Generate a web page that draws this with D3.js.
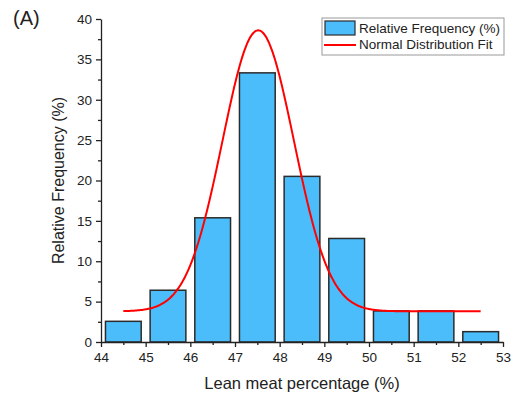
<!DOCTYPE html>
<html>
<head>
<meta charset="utf-8">
<script src="https://cdn.jsdelivr.net/npm/d3@7"></script>
<style>
  body { margin: 0; background: #fff; }
  svg text { font-family: Arial, "Liberation Sans", sans-serif; fill: #222; }
</style>
</head>
<body>
<svg id="chart" width="513" height="397"></svg>
<script>
// histogram bins (lean meat %), bin start / end
const binStarts = [44, 45, 46, 47, 48, 49, 50, 51, 52];
const binEnds = [45, 46, 47, 48, 49, 50, 51, 52, 53];
const relFreq = [2.56, 6.41, 15.38, 33.33, 20.51, 12.82, 3.85, 3.85, 1.28];

// normal (gauss) fit parameters
const fitY0 = 3.8;
const fitA = 34.8;
const fitXc = 47.52;
const fitW = 0.8;
const fitRange = [44.5, 52.5];

const xTicks = [44, 45, 46, 47, 48, 49, 50, 51, 52, 53];
const yTicks = [0, 5, 10, 15, 20, 25, 30, 35, 40];

const margin = {top: 19, right: 10, bottom: 55, left: 101};
const width = 503 - margin.left;
const height = 342 - margin.top;
const barColor = '#4bbdfb';

const svg = d3.select('#chart');
const g = svg.append('g').attr('transform', `translate(${margin.left},${margin.top})`);

const x = d3.scaleLinear().domain([44, 53]).range([0, width]);
const y = d3.scaleLinear().domain([0, 40]).range([height, 0]);

// bars
g.append('g')
    .selectAll('rect')
    .data(relFreq)
    .enter()
    .append('rect')
    .attr('x', (d, i) => x(binStarts[i] + 0.1))
    .attr('y', d => y(d))
    .attr('width', (d, i) => x(binEnds[i] - 0.1) - x(binStarts[i] + 0.1))
    .attr('height', d => height - y(d))
    .attr('fill', barColor)
    .attr('stroke', '#2b2b2b')
    .attr('stroke-width', 1.5);

// fit curve
const fitXs = d3.range(fitRange[0], fitRange[1] + 0.001, 0.02);
const fitLine = d3.line()
    .x(d => x(d))
    .y(d => y(fitY0 + fitA * Math.exp(-((d - fitXc) ** 2) / (2 * fitW * fitW))))
    .curve(d3.curveBasis);
g.append('path')
    .datum(fitXs)
    .attr('d', fitLine)
    .attr('fill', 'none')
    .attr('stroke', '#ff0000')
    .attr('stroke-width', 2);

// minor ticks
g.append('g')
    .attr('transform', `translate(0,${height})`)
    .call(d3.axisBottom(x).tickValues(d3.range(44.5, 53, 1)).tickSize(3).tickFormat(''))
    .call(a => a.select('.domain').remove());
g.append('g')
    .call(d3.axisLeft(y).tickValues(d3.range(2.5, 40, 5)).tickSize(3).tickFormat(''))
    .call(a => a.select('.domain').remove());

// x axis
const xAxis = g.append('g')
    .attr('transform', `translate(0,${height})`)
    .call(d3.axisBottom(x).tickValues(xTicks).tickSize(5).tickSizeOuter(0).tickPadding(5));
xAxis.selectAll('text').style('font-size', '13.5px');

// y axis
const yAxis = g.append('g')
    .call(d3.axisLeft(y).tickValues(yTicks).tickSize(5).tickSizeOuter(0).tickPadding(4));
yAxis.selectAll('text').style('font-size', '13.5px');

g.selectAll('.domain, .tick line').attr('stroke', '#222').attr('stroke-width', 1.3);

// axis titles
svg.append('text')
    .attr('x', margin.left + width / 2)
    .attr('y', 389)
    .attr('text-anchor', 'middle')
    .style('font-size', '16.5px')
    .text('Lean meat percentage (%)');

svg.append('text')
    .attr('transform', `translate(64,${margin.top + height / 2}) rotate(-90)`)
    .attr('text-anchor', 'middle')
    .style('font-size', '16px')
    .text('Relative Frequency (%)');

svg.append('text')
    .attr('x', 13)
    .attr('y', 25)
    .style('font-size', '20px')
    .text('(A)');

// legend
const legend = svg.append('g').attr('transform', 'translate(322,18)');
legend.append('rect')
    .attr('width', 182)
    .attr('height', 37)
    .attr('fill', '#fff')
    .attr('stroke', '#999')
    .attr('stroke-width', 1);
legend.append('rect')
    .attr('x', 3)
    .attr('y', 3)
    .attr('width', 30)
    .attr('height', 14)
    .attr('fill', barColor)
    .attr('stroke', '#2b2b2b')
    .attr('stroke-width', 1.2);
legend.append('line')
    .attr('x1', 2)
    .attr('x2', 34)
    .attr('y1', 27)
    .attr('y2', 27)
    .attr('stroke', '#ff0000')
    .attr('stroke-width', 2);
legend.append('text')
    .attr('x', 37)
    .attr('y', 15)
    .style('font-size', '13.5px')
    .text('Relative Frequency (%)');
legend.append('text')
    .attr('x', 37)
    .attr('y', 31)
    .style('font-size', '13.5px')
    .text('Normal Distribution Fit');
</script>
</body>
</html>
